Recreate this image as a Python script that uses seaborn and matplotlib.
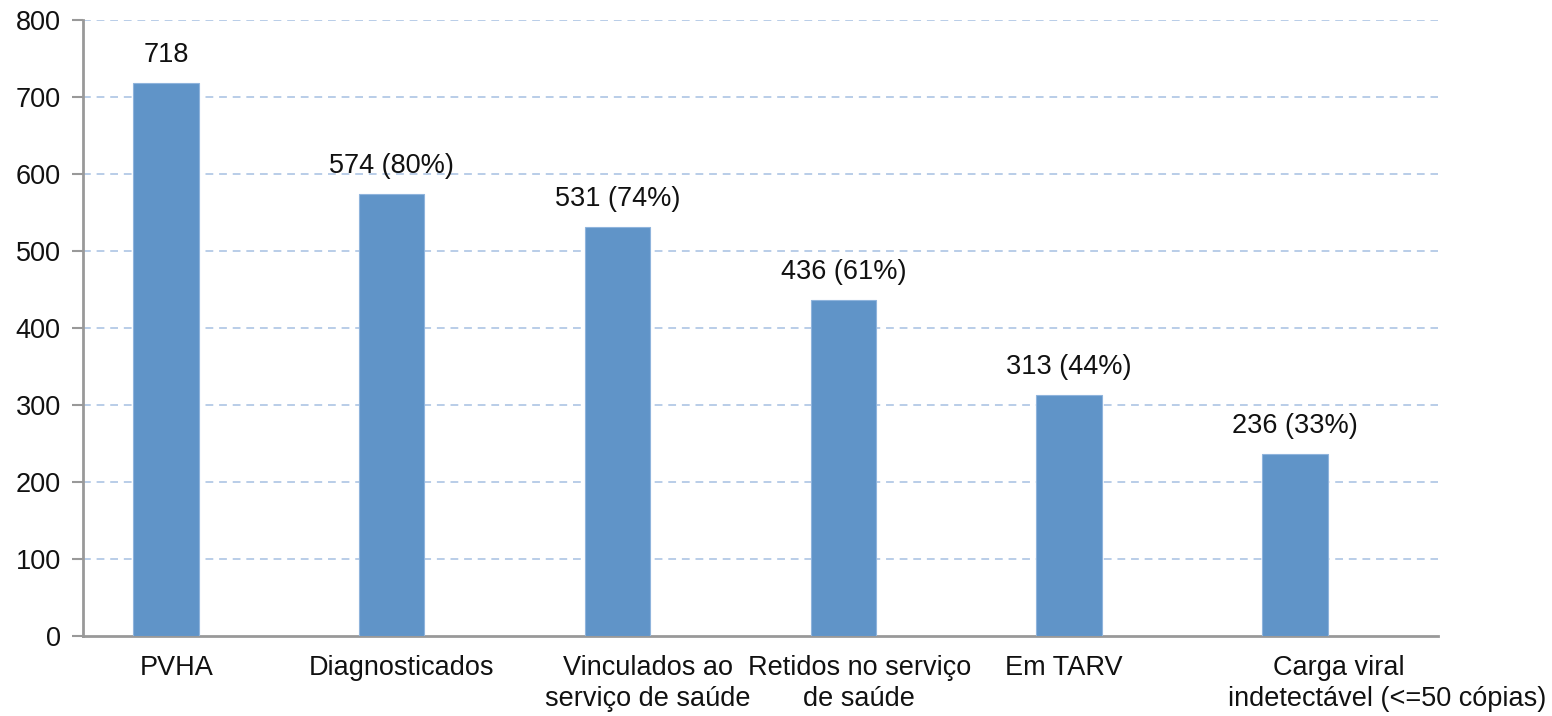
import matplotlib
matplotlib.use("Agg")
import matplotlib.pyplot as plt
import seaborn as sns
import numpy as np
import pandas as pd

categories = ["PVHA", "Diagnosticados", "Vinculados ao\nserviço de saúde",
              "Retidos no serviço\nde saúde", "Em TARV",
              "      Carga viral\nindetectável (<=50 cópias)"]
values = [718, 574, 531, 436, 313, 236]
percents = [None, "80%", "74%", "61%", "44%", "33%"]
yticks = [0, 100, 200, 300, 400, 500, 600, 700, 800]

sns.set_theme(style="white")
plt.rcParams['font.family'] = ['Liberation Sans', 'DejaVu Sans']

fig = plt.figure(figsize=(15.52, 7.16), dpi=100)
ax = fig.add_axes([83/1552, 80/716, (1438-83)/1552, (636-20)/716])

df = pd.DataFrame({"cat": categories, "val": values})
sns.barplot(data=df, x="cat", y="val", color="#6094c8", width=0.29,
            edgecolor="#8fb4dc", linewidth=0.8, saturation=1, ax=ax, zorder=3)

d = 0.133
ax.set_xlim(-0.5 + d, 5.5 + d)
ax.set_ylim(0, 800)
ax.set_yticks(yticks)
ax.set_yticklabels([str(v) for v in yticks], fontsize=19.5, color="#111111")

label_pos = [0.049, 1.045, 2.133, 3.071, 3.978, 5.407]
ax.set_xticks(label_pos)
ax.set_xticklabels(categories, fontsize=19.5, color="#111111",
                   multialignment="left", linespacing=1.22)
ax.tick_params(axis="x", which="major", length=0, pad=14)
ax.set_xticks(np.arange(7) - 0.5 + d, minor=True)
ax.tick_params(axis="x", which="minor", length=8, width=1.5, color="#999999", direction="out")
ax.tick_params(axis="y", length=8, width=1.5, color="#999999", direction="out", left=True, pad=8)
for t in ax.get_xticklabels()[:-1]:
    t.set_multialignment("center")

ax.set_xlabel("")
ax.set_ylabel("")

for y in yticks[1:]:
    ax.axhline(y, color="#b9cde8", linestyle=(0, (4, 3)), linewidth=1.4, zorder=1)

for s in ["top", "right"]:
    ax.spines[s].set_visible(False)
for s in ["left", "bottom"]:
    ax.spines[s].set_color("#999999")
    ax.spines[s].set_linewidth(2)

labels = [f"{v}" if p is None else f"{v} ({p})" for v, p in zip(values, percents)]
ax.bar_label(ax.containers[0], labels=labels, padding=11, fontsize=19.5, color="#111111")

fig.savefig("out.png", dpi=100)
